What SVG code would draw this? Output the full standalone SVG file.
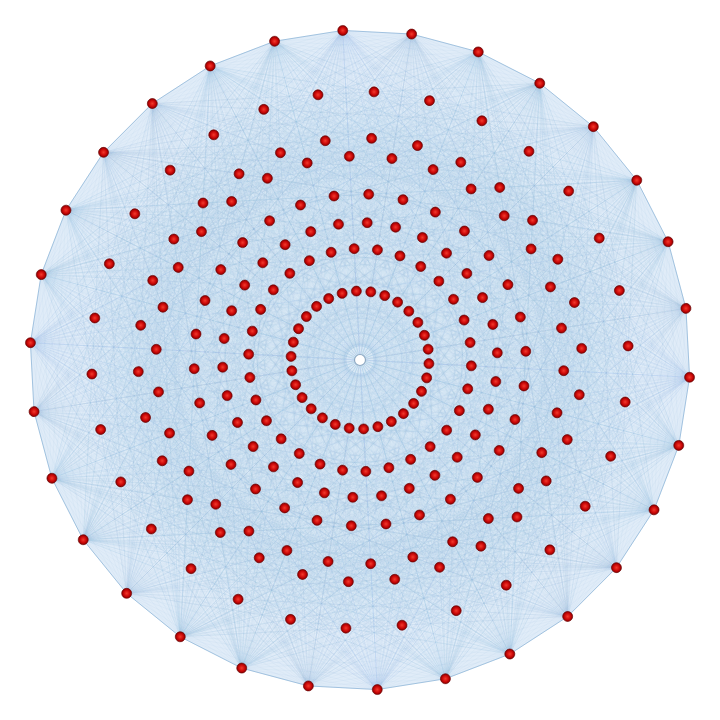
<svg xmlns="http://www.w3.org/2000/svg" xmlns:xlink="http://www.w3.org/1999/xlink" width="720" height="720" viewBox="0 0 720 720">
<style>
.ed{fill:none;stroke:#9cc2e4;stroke-width:0.45;stroke-opacity:0.2}
.nodes circle{fill:url(#rg);stroke:#6a0000;stroke-width:0.6}
.nodes circle.hub{fill:#ffffff;stroke:#8ea9c2;stroke-width:1.2}
</style>
<defs>
<radialGradient id="rg" cx="0.5" cy="0.5" r="0.5">
<stop offset="0" stop-color="#f23a2c"/><stop offset="0.6" stop-color="#cc0808"/><stop offset="1" stop-color="#8a0000"/>
</radialGradient>
<radialGradient id="gin" cx="0.5" cy="0.5" r="0.5">
<stop offset="0" stop-color="#d8e8f5"/><stop offset="0.85" stop-color="#d8e8f5"/><stop offset="1" stop-color="#d8e8f5" stop-opacity="0"/>
</radialGradient>
<path id="fa" class="ed" d="M360 30L428.6 37.2M360 30L494.2 58.5M360 30L554 93M360 30L605.2 139.2M360 30L645.8 195M360 30L673.9 258M360 30L688.2 325.5M360 30L688.2 394.5M360 30L673.9 462M360 30L645.8 525M360 30L605.2 580.8M360 30L554 627M360 30L494.2 661.5M360 30L428.6 682.8M360 30L360 690"/>
<path id="fh" class="ed" d="M360 30L388.1 93M360 30L443 104.6M360 30L494.3 127.5M360 30L539.7 160.5M360 30L577.2 202.2M360 30L605.3 250.8M360 30L622.6 304.2M360 30L628.5 360M360 30L622.6 415.8M360 30L605.3 469.2M360 30L577.2 517.8M360 30L539.7 559.5M360 30L494.3 592.5M360 30L443 615.4M360 30L388.1 627M360 30L383.2 139.2M360 30L428.6 148.9M360 30L471 167.7M360 30L508.6 195M360 30L539.6 229.5M360 30L562.8 269.7M360 30L577.2 313.8M360 30L582 360M360 30L577.2 406.2M360 30L562.8 450.3M360 30L539.6 490.5M360 30L508.6 525M360 30L471 552.3M360 30L428.6 571.1M360 30L383.2 580.8M360 30L360 156M360 30L402.4 160.5M360 30L443 173.6M360 30L479.9 195M360 30L511.6 223.5M360 30L536.7 258M360 30L554 297M360 30L562.9 338.7M360 30L562.9 381.3M360 30L554 423M360 30L536.7 462M360 30L511.6 496.5M360 30L479.9 525M360 30L443 546.4M360 30L402.4 559.5M360 30L360 564"/>
<g id="w"><use href="#fa"/><use href="#fh"/><use href="#fh" transform="matrix(-1 0 0 1 720 0)"/></g>
</defs>
<rect width="720" height="720" fill="#ffffff"/>
<g id="disk">
<polygon transform="rotate(-3 360 360)" fill="#e0ecf8" stroke="#9bbedc" stroke-width="0.9" points="360,30 428.6,37.2 494.2,58.5 554,93 605.2,139.2 645.8,195 673.9,258 688.2,325.5 688.2,394.5 673.9,462 645.8,525 605.2,580.8 554,627 494.2,661.5 428.6,682.8 360,690 291.4,682.8 225.8,661.5 166,627 114.8,580.8 74.2,525 46.1,462 31.8,394.5 31.8,325.5 46.1,258 74.2,195 114.8,139.2 166,93 225.8,58.5 291.4,37.2"/>
<circle cx="360" cy="360" r="272" fill="url(#gin)"/>
</g>
<g id="edges">
<use href="#w" transform="rotate(-3 360 360)"/><use href="#w" transform="rotate(9 360 360)"/><use href="#w" transform="rotate(21 360 360)"/><use href="#w" transform="rotate(33 360 360)"/><use href="#w" transform="rotate(45 360 360)"/><use href="#w" transform="rotate(57 360 360)"/><use href="#w" transform="rotate(69 360 360)"/><use href="#w" transform="rotate(81 360 360)"/><use href="#w" transform="rotate(93 360 360)"/><use href="#w" transform="rotate(105 360 360)"/><use href="#w" transform="rotate(117 360 360)"/><use href="#w" transform="rotate(129 360 360)"/><use href="#w" transform="rotate(141 360 360)"/><use href="#w" transform="rotate(153 360 360)"/><use href="#w" transform="rotate(165 360 360)"/><use href="#w" transform="rotate(177 360 360)"/><use href="#w" transform="rotate(189 360 360)"/><use href="#w" transform="rotate(201 360 360)"/><use href="#w" transform="rotate(213 360 360)"/><use href="#w" transform="rotate(225 360 360)"/><use href="#w" transform="rotate(237 360 360)"/><use href="#w" transform="rotate(249 360 360)"/><use href="#w" transform="rotate(261 360 360)"/><use href="#w" transform="rotate(273 360 360)"/><use href="#w" transform="rotate(285 360 360)"/><use href="#w" transform="rotate(297 360 360)"/><use href="#w" transform="rotate(309 360 360)"/><use href="#w" transform="rotate(321 360 360)"/><use href="#w" transform="rotate(333 360 360)"/><use href="#w" transform="rotate(345 360 360)"/>
</g>
<g class="nodes">
<g id="hub"><circle class="hub" cx="360" cy="360" r="5.5"/></g>
<g id="r1n0"><circle cx="360" cy="30" r="5" transform="rotate(-3 360 360)"/></g>
<g id="r1n1"><circle cx="360" cy="30" r="5" transform="rotate(9 360 360)"/></g>
<g id="r1n2"><circle cx="360" cy="30" r="5" transform="rotate(21 360 360)"/></g>
<g id="r1n3"><circle cx="360" cy="30" r="5" transform="rotate(33 360 360)"/></g>
<g id="r1n4"><circle cx="360" cy="30" r="5" transform="rotate(45 360 360)"/></g>
<g id="r1n5"><circle cx="360" cy="30" r="5" transform="rotate(57 360 360)"/></g>
<g id="r1n6"><circle cx="360" cy="30" r="5" transform="rotate(69 360 360)"/></g>
<g id="r1n7"><circle cx="360" cy="30" r="5" transform="rotate(81 360 360)"/></g>
<g id="r1n8"><circle cx="360" cy="30" r="5" transform="rotate(93 360 360)"/></g>
<g id="r1n9"><circle cx="360" cy="30" r="5" transform="rotate(105 360 360)"/></g>
<g id="r1n10"><circle cx="360" cy="30" r="5" transform="rotate(117 360 360)"/></g>
<g id="r1n11"><circle cx="360" cy="30" r="5" transform="rotate(129 360 360)"/></g>
<g id="r1n12"><circle cx="360" cy="30" r="5" transform="rotate(141 360 360)"/></g>
<g id="r1n13"><circle cx="360" cy="30" r="5" transform="rotate(153 360 360)"/></g>
<g id="r1n14"><circle cx="360" cy="30" r="5" transform="rotate(165 360 360)"/></g>
<g id="r1n15"><circle cx="360" cy="30" r="5" transform="rotate(177 360 360)"/></g>
<g id="r1n16"><circle cx="360" cy="30" r="5" transform="rotate(189 360 360)"/></g>
<g id="r1n17"><circle cx="360" cy="30" r="5" transform="rotate(201 360 360)"/></g>
<g id="r1n18"><circle cx="360" cy="30" r="5" transform="rotate(213 360 360)"/></g>
<g id="r1n19"><circle cx="360" cy="30" r="5" transform="rotate(225 360 360)"/></g>
<g id="r1n20"><circle cx="360" cy="30" r="5" transform="rotate(237 360 360)"/></g>
<g id="r1n21"><circle cx="360" cy="30" r="5" transform="rotate(249 360 360)"/></g>
<g id="r1n22"><circle cx="360" cy="30" r="5" transform="rotate(261 360 360)"/></g>
<g id="r1n23"><circle cx="360" cy="30" r="5" transform="rotate(273 360 360)"/></g>
<g id="r1n24"><circle cx="360" cy="30" r="5" transform="rotate(285 360 360)"/></g>
<g id="r1n25"><circle cx="360" cy="30" r="5" transform="rotate(297 360 360)"/></g>
<g id="r1n26"><circle cx="360" cy="30" r="5" transform="rotate(309 360 360)"/></g>
<g id="r1n27"><circle cx="360" cy="30" r="5" transform="rotate(321 360 360)"/></g>
<g id="r1n28"><circle cx="360" cy="30" r="5" transform="rotate(333 360 360)"/></g>
<g id="r1n29"><circle cx="360" cy="30" r="5" transform="rotate(345 360 360)"/></g>
<g id="r2n0"><circle cx="360" cy="91.5" r="5" transform="rotate(3 360 360)"/></g>
<g id="r2n1"><circle cx="360" cy="91.5" r="5" transform="rotate(15 360 360)"/></g>
<g id="r2n2"><circle cx="360" cy="91.5" r="5" transform="rotate(27 360 360)"/></g>
<g id="r2n3"><circle cx="360" cy="91.5" r="5" transform="rotate(39 360 360)"/></g>
<g id="r2n4"><circle cx="360" cy="91.5" r="5" transform="rotate(51 360 360)"/></g>
<g id="r2n5"><circle cx="360" cy="91.5" r="5" transform="rotate(63 360 360)"/></g>
<g id="r2n6"><circle cx="360" cy="91.5" r="5" transform="rotate(75 360 360)"/></g>
<g id="r2n7"><circle cx="360" cy="91.5" r="5" transform="rotate(87 360 360)"/></g>
<g id="r2n8"><circle cx="360" cy="91.5" r="5" transform="rotate(99 360 360)"/></g>
<g id="r2n9"><circle cx="360" cy="91.5" r="5" transform="rotate(111 360 360)"/></g>
<g id="r2n10"><circle cx="360" cy="91.5" r="5" transform="rotate(123 360 360)"/></g>
<g id="r2n11"><circle cx="360" cy="91.5" r="5" transform="rotate(135 360 360)"/></g>
<g id="r2n12"><circle cx="360" cy="91.5" r="5" transform="rotate(147 360 360)"/></g>
<g id="r2n13"><circle cx="360" cy="91.5" r="5" transform="rotate(159 360 360)"/></g>
<g id="r2n14"><circle cx="360" cy="91.5" r="5" transform="rotate(171 360 360)"/></g>
<g id="r2n15"><circle cx="360" cy="91.5" r="5" transform="rotate(183 360 360)"/></g>
<g id="r2n16"><circle cx="360" cy="91.5" r="5" transform="rotate(195 360 360)"/></g>
<g id="r2n17"><circle cx="360" cy="91.5" r="5" transform="rotate(207 360 360)"/></g>
<g id="r2n18"><circle cx="360" cy="91.5" r="5" transform="rotate(219 360 360)"/></g>
<g id="r2n19"><circle cx="360" cy="91.5" r="5" transform="rotate(231 360 360)"/></g>
<g id="r2n20"><circle cx="360" cy="91.5" r="5" transform="rotate(243 360 360)"/></g>
<g id="r2n21"><circle cx="360" cy="91.5" r="5" transform="rotate(255 360 360)"/></g>
<g id="r2n22"><circle cx="360" cy="91.5" r="5" transform="rotate(267 360 360)"/></g>
<g id="r2n23"><circle cx="360" cy="91.5" r="5" transform="rotate(279 360 360)"/></g>
<g id="r2n24"><circle cx="360" cy="91.5" r="5" transform="rotate(291 360 360)"/></g>
<g id="r2n25"><circle cx="360" cy="91.5" r="5" transform="rotate(303 360 360)"/></g>
<g id="r2n26"><circle cx="360" cy="91.5" r="5" transform="rotate(315 360 360)"/></g>
<g id="r2n27"><circle cx="360" cy="91.5" r="5" transform="rotate(327 360 360)"/></g>
<g id="r2n28"><circle cx="360" cy="91.5" r="5" transform="rotate(339 360 360)"/></g>
<g id="r2n29"><circle cx="360" cy="91.5" r="5" transform="rotate(351 360 360)"/></g>
<g id="r3n0"><circle cx="360" cy="138" r="5" transform="rotate(3 360 360)"/></g>
<g id="r3n1"><circle cx="360" cy="138" r="5" transform="rotate(15 360 360)"/></g>
<g id="r3n2"><circle cx="360" cy="138" r="5" transform="rotate(27 360 360)"/></g>
<g id="r3n3"><circle cx="360" cy="138" r="5" transform="rotate(39 360 360)"/></g>
<g id="r3n4"><circle cx="360" cy="138" r="5" transform="rotate(51 360 360)"/></g>
<g id="r3n5"><circle cx="360" cy="138" r="5" transform="rotate(63 360 360)"/></g>
<g id="r3n6"><circle cx="360" cy="138" r="5" transform="rotate(75 360 360)"/></g>
<g id="r3n7"><circle cx="360" cy="138" r="5" transform="rotate(87 360 360)"/></g>
<g id="r3n8"><circle cx="360" cy="138" r="5" transform="rotate(99 360 360)"/></g>
<g id="r3n9"><circle cx="360" cy="138" r="5" transform="rotate(111 360 360)"/></g>
<g id="r3n10"><circle cx="360" cy="138" r="5" transform="rotate(123 360 360)"/></g>
<g id="r3n11"><circle cx="360" cy="138" r="5" transform="rotate(135 360 360)"/></g>
<g id="r3n12"><circle cx="360" cy="138" r="5" transform="rotate(147 360 360)"/></g>
<g id="r3n13"><circle cx="360" cy="138" r="5" transform="rotate(159 360 360)"/></g>
<g id="r3n14"><circle cx="360" cy="138" r="5" transform="rotate(171 360 360)"/></g>
<g id="r3n15"><circle cx="360" cy="138" r="5" transform="rotate(183 360 360)"/></g>
<g id="r3n16"><circle cx="360" cy="138" r="5" transform="rotate(195 360 360)"/></g>
<g id="r3n17"><circle cx="360" cy="138" r="5" transform="rotate(207 360 360)"/></g>
<g id="r3n18"><circle cx="360" cy="138" r="5" transform="rotate(219 360 360)"/></g>
<g id="r3n19"><circle cx="360" cy="138" r="5" transform="rotate(231 360 360)"/></g>
<g id="r3n20"><circle cx="360" cy="138" r="5" transform="rotate(243 360 360)"/></g>
<g id="r3n21"><circle cx="360" cy="138" r="5" transform="rotate(255 360 360)"/></g>
<g id="r3n22"><circle cx="360" cy="138" r="5" transform="rotate(267 360 360)"/></g>
<g id="r3n23"><circle cx="360" cy="138" r="5" transform="rotate(279 360 360)"/></g>
<g id="r3n24"><circle cx="360" cy="138" r="5" transform="rotate(291 360 360)"/></g>
<g id="r3n25"><circle cx="360" cy="138" r="5" transform="rotate(303 360 360)"/></g>
<g id="r3n26"><circle cx="360" cy="138" r="5" transform="rotate(315 360 360)"/></g>
<g id="r3n27"><circle cx="360" cy="138" r="5" transform="rotate(327 360 360)"/></g>
<g id="r3n28"><circle cx="360" cy="138" r="5" transform="rotate(339 360 360)"/></g>
<g id="r3n29"><circle cx="360" cy="138" r="5" transform="rotate(351 360 360)"/></g>
<g id="r4n0"><circle cx="360" cy="156" r="5" transform="rotate(-3 360 360)"/></g>
<g id="r4n1"><circle cx="360" cy="156" r="5" transform="rotate(9 360 360)"/></g>
<g id="r4n2"><circle cx="360" cy="156" r="5" transform="rotate(21 360 360)"/></g>
<g id="r4n3"><circle cx="360" cy="156" r="5" transform="rotate(33 360 360)"/></g>
<g id="r4n4"><circle cx="360" cy="156" r="5" transform="rotate(45 360 360)"/></g>
<g id="r4n5"><circle cx="360" cy="156" r="5" transform="rotate(57 360 360)"/></g>
<g id="r4n6"><circle cx="360" cy="156" r="5" transform="rotate(69 360 360)"/></g>
<g id="r4n7"><circle cx="360" cy="156" r="5" transform="rotate(81 360 360)"/></g>
<g id="r4n8"><circle cx="360" cy="156" r="5" transform="rotate(93 360 360)"/></g>
<g id="r4n9"><circle cx="360" cy="156" r="5" transform="rotate(105 360 360)"/></g>
<g id="r4n10"><circle cx="360" cy="156" r="5" transform="rotate(117 360 360)"/></g>
<g id="r4n11"><circle cx="360" cy="156" r="5" transform="rotate(129 360 360)"/></g>
<g id="r4n12"><circle cx="360" cy="156" r="5" transform="rotate(141 360 360)"/></g>
<g id="r4n13"><circle cx="360" cy="156" r="5" transform="rotate(153 360 360)"/></g>
<g id="r4n14"><circle cx="360" cy="156" r="5" transform="rotate(165 360 360)"/></g>
<g id="r4n15"><circle cx="360" cy="156" r="5" transform="rotate(177 360 360)"/></g>
<g id="r4n16"><circle cx="360" cy="156" r="5" transform="rotate(189 360 360)"/></g>
<g id="r4n17"><circle cx="360" cy="156" r="5" transform="rotate(201 360 360)"/></g>
<g id="r4n18"><circle cx="360" cy="156" r="5" transform="rotate(213 360 360)"/></g>
<g id="r4n19"><circle cx="360" cy="156" r="5" transform="rotate(225 360 360)"/></g>
<g id="r4n20"><circle cx="360" cy="156" r="5" transform="rotate(237 360 360)"/></g>
<g id="r4n21"><circle cx="360" cy="156" r="5" transform="rotate(249 360 360)"/></g>
<g id="r4n22"><circle cx="360" cy="156" r="5" transform="rotate(261 360 360)"/></g>
<g id="r4n23"><circle cx="360" cy="156" r="5" transform="rotate(273 360 360)"/></g>
<g id="r4n24"><circle cx="360" cy="156" r="5" transform="rotate(285 360 360)"/></g>
<g id="r4n25"><circle cx="360" cy="156" r="5" transform="rotate(297 360 360)"/></g>
<g id="r4n26"><circle cx="360" cy="156" r="5" transform="rotate(309 360 360)"/></g>
<g id="r4n27"><circle cx="360" cy="156" r="5" transform="rotate(321 360 360)"/></g>
<g id="r4n28"><circle cx="360" cy="156" r="5" transform="rotate(333 360 360)"/></g>
<g id="r4n29"><circle cx="360" cy="156" r="5" transform="rotate(345 360 360)"/></g>
<g id="r5n0"><circle cx="360" cy="194" r="5" transform="rotate(3 360 360)"/></g>
<g id="r5n1"><circle cx="360" cy="194" r="5" transform="rotate(15 360 360)"/></g>
<g id="r5n2"><circle cx="360" cy="194" r="5" transform="rotate(27 360 360)"/></g>
<g id="r5n3"><circle cx="360" cy="194" r="5" transform="rotate(39 360 360)"/></g>
<g id="r5n4"><circle cx="360" cy="194" r="5" transform="rotate(51 360 360)"/></g>
<g id="r5n5"><circle cx="360" cy="194" r="5" transform="rotate(63 360 360)"/></g>
<g id="r5n6"><circle cx="360" cy="194" r="5" transform="rotate(75 360 360)"/></g>
<g id="r5n7"><circle cx="360" cy="194" r="5" transform="rotate(87 360 360)"/></g>
<g id="r5n8"><circle cx="360" cy="194" r="5" transform="rotate(99 360 360)"/></g>
<g id="r5n9"><circle cx="360" cy="194" r="5" transform="rotate(111 360 360)"/></g>
<g id="r5n10"><circle cx="360" cy="194" r="5" transform="rotate(123 360 360)"/></g>
<g id="r5n11"><circle cx="360" cy="194" r="5" transform="rotate(135 360 360)"/></g>
<g id="r5n12"><circle cx="360" cy="194" r="5" transform="rotate(147 360 360)"/></g>
<g id="r5n13"><circle cx="360" cy="194" r="5" transform="rotate(159 360 360)"/></g>
<g id="r5n14"><circle cx="360" cy="194" r="5" transform="rotate(171 360 360)"/></g>
<g id="r5n15"><circle cx="360" cy="194" r="5" transform="rotate(183 360 360)"/></g>
<g id="r5n16"><circle cx="360" cy="194" r="5" transform="rotate(195 360 360)"/></g>
<g id="r5n17"><circle cx="360" cy="194" r="5" transform="rotate(207 360 360)"/></g>
<g id="r5n18"><circle cx="360" cy="194" r="5" transform="rotate(219 360 360)"/></g>
<g id="r5n19"><circle cx="360" cy="194" r="5" transform="rotate(231 360 360)"/></g>
<g id="r5n20"><circle cx="360" cy="194" r="5" transform="rotate(243 360 360)"/></g>
<g id="r5n21"><circle cx="360" cy="194" r="5" transform="rotate(255 360 360)"/></g>
<g id="r5n22"><circle cx="360" cy="194" r="5" transform="rotate(267 360 360)"/></g>
<g id="r5n23"><circle cx="360" cy="194" r="5" transform="rotate(279 360 360)"/></g>
<g id="r5n24"><circle cx="360" cy="194" r="5" transform="rotate(291 360 360)"/></g>
<g id="r5n25"><circle cx="360" cy="194" r="5" transform="rotate(303 360 360)"/></g>
<g id="r5n26"><circle cx="360" cy="194" r="5" transform="rotate(315 360 360)"/></g>
<g id="r5n27"><circle cx="360" cy="194" r="5" transform="rotate(327 360 360)"/></g>
<g id="r5n28"><circle cx="360" cy="194" r="5" transform="rotate(339 360 360)"/></g>
<g id="r5n29"><circle cx="360" cy="194" r="5" transform="rotate(351 360 360)"/></g>
<g id="r6n0"><circle cx="360" cy="222.5" r="5" transform="rotate(3 360 360)"/></g>
<g id="r6n1"><circle cx="360" cy="222.5" r="5" transform="rotate(15 360 360)"/></g>
<g id="r6n2"><circle cx="360" cy="222.5" r="5" transform="rotate(27 360 360)"/></g>
<g id="r6n3"><circle cx="360" cy="222.5" r="5" transform="rotate(39 360 360)"/></g>
<g id="r6n4"><circle cx="360" cy="222.5" r="5" transform="rotate(51 360 360)"/></g>
<g id="r6n5"><circle cx="360" cy="222.5" r="5" transform="rotate(63 360 360)"/></g>
<g id="r6n6"><circle cx="360" cy="222.5" r="5" transform="rotate(75 360 360)"/></g>
<g id="r6n7"><circle cx="360" cy="222.5" r="5" transform="rotate(87 360 360)"/></g>
<g id="r6n8"><circle cx="360" cy="222.5" r="5" transform="rotate(99 360 360)"/></g>
<g id="r6n9"><circle cx="360" cy="222.5" r="5" transform="rotate(111 360 360)"/></g>
<g id="r6n10"><circle cx="360" cy="222.5" r="5" transform="rotate(123 360 360)"/></g>
<g id="r6n11"><circle cx="360" cy="222.5" r="5" transform="rotate(135 360 360)"/></g>
<g id="r6n12"><circle cx="360" cy="222.5" r="5" transform="rotate(147 360 360)"/></g>
<g id="r6n13"><circle cx="360" cy="222.5" r="5" transform="rotate(159 360 360)"/></g>
<g id="r6n14"><circle cx="360" cy="222.5" r="5" transform="rotate(171 360 360)"/></g>
<g id="r6n15"><circle cx="360" cy="222.5" r="5" transform="rotate(183 360 360)"/></g>
<g id="r6n16"><circle cx="360" cy="222.5" r="5" transform="rotate(195 360 360)"/></g>
<g id="r6n17"><circle cx="360" cy="222.5" r="5" transform="rotate(207 360 360)"/></g>
<g id="r6n18"><circle cx="360" cy="222.5" r="5" transform="rotate(219 360 360)"/></g>
<g id="r6n19"><circle cx="360" cy="222.5" r="5" transform="rotate(231 360 360)"/></g>
<g id="r6n20"><circle cx="360" cy="222.5" r="5" transform="rotate(243 360 360)"/></g>
<g id="r6n21"><circle cx="360" cy="222.5" r="5" transform="rotate(255 360 360)"/></g>
<g id="r6n22"><circle cx="360" cy="222.5" r="5" transform="rotate(267 360 360)"/></g>
<g id="r6n23"><circle cx="360" cy="222.5" r="5" transform="rotate(279 360 360)"/></g>
<g id="r6n24"><circle cx="360" cy="222.5" r="5" transform="rotate(291 360 360)"/></g>
<g id="r6n25"><circle cx="360" cy="222.5" r="5" transform="rotate(303 360 360)"/></g>
<g id="r6n26"><circle cx="360" cy="222.5" r="5" transform="rotate(315 360 360)"/></g>
<g id="r6n27"><circle cx="360" cy="222.5" r="5" transform="rotate(327 360 360)"/></g>
<g id="r6n28"><circle cx="360" cy="222.5" r="5" transform="rotate(339 360 360)"/></g>
<g id="r6n29"><circle cx="360" cy="222.5" r="5" transform="rotate(351 360 360)"/></g>
<g id="r7n0"><circle cx="360" cy="248.5" r="5" transform="rotate(-3 360 360)"/></g>
<g id="r7n1"><circle cx="360" cy="248.5" r="5" transform="rotate(9 360 360)"/></g>
<g id="r7n2"><circle cx="360" cy="248.5" r="5" transform="rotate(21 360 360)"/></g>
<g id="r7n3"><circle cx="360" cy="248.5" r="5" transform="rotate(33 360 360)"/></g>
<g id="r7n4"><circle cx="360" cy="248.5" r="5" transform="rotate(45 360 360)"/></g>
<g id="r7n5"><circle cx="360" cy="248.5" r="5" transform="rotate(57 360 360)"/></g>
<g id="r7n6"><circle cx="360" cy="248.5" r="5" transform="rotate(69 360 360)"/></g>
<g id="r7n7"><circle cx="360" cy="248.5" r="5" transform="rotate(81 360 360)"/></g>
<g id="r7n8"><circle cx="360" cy="248.5" r="5" transform="rotate(93 360 360)"/></g>
<g id="r7n9"><circle cx="360" cy="248.5" r="5" transform="rotate(105 360 360)"/></g>
<g id="r7n10"><circle cx="360" cy="248.5" r="5" transform="rotate(117 360 360)"/></g>
<g id="r7n11"><circle cx="360" cy="248.5" r="5" transform="rotate(129 360 360)"/></g>
<g id="r7n12"><circle cx="360" cy="248.5" r="5" transform="rotate(141 360 360)"/></g>
<g id="r7n13"><circle cx="360" cy="248.5" r="5" transform="rotate(153 360 360)"/></g>
<g id="r7n14"><circle cx="360" cy="248.5" r="5" transform="rotate(165 360 360)"/></g>
<g id="r7n15"><circle cx="360" cy="248.5" r="5" transform="rotate(177 360 360)"/></g>
<g id="r7n16"><circle cx="360" cy="248.5" r="5" transform="rotate(189 360 360)"/></g>
<g id="r7n17"><circle cx="360" cy="248.5" r="5" transform="rotate(201 360 360)"/></g>
<g id="r7n18"><circle cx="360" cy="248.5" r="5" transform="rotate(213 360 360)"/></g>
<g id="r7n19"><circle cx="360" cy="248.5" r="5" transform="rotate(225 360 360)"/></g>
<g id="r7n20"><circle cx="360" cy="248.5" r="5" transform="rotate(237 360 360)"/></g>
<g id="r7n21"><circle cx="360" cy="248.5" r="5" transform="rotate(249 360 360)"/></g>
<g id="r7n22"><circle cx="360" cy="248.5" r="5" transform="rotate(261 360 360)"/></g>
<g id="r7n23"><circle cx="360" cy="248.5" r="5" transform="rotate(273 360 360)"/></g>
<g id="r7n24"><circle cx="360" cy="248.5" r="5" transform="rotate(285 360 360)"/></g>
<g id="r7n25"><circle cx="360" cy="248.5" r="5" transform="rotate(297 360 360)"/></g>
<g id="r7n26"><circle cx="360" cy="248.5" r="5" transform="rotate(309 360 360)"/></g>
<g id="r7n27"><circle cx="360" cy="248.5" r="5" transform="rotate(321 360 360)"/></g>
<g id="r7n28"><circle cx="360" cy="248.5" r="5" transform="rotate(333 360 360)"/></g>
<g id="r7n29"><circle cx="360" cy="248.5" r="5" transform="rotate(345 360 360)"/></g>
<g id="r8n0"><circle cx="360" cy="291" r="5" transform="rotate(-3 360 360)"/></g>
<g id="r8n1"><circle cx="360" cy="291" r="5" transform="rotate(9 360 360)"/></g>
<g id="r8n2"><circle cx="360" cy="291" r="5" transform="rotate(21 360 360)"/></g>
<g id="r8n3"><circle cx="360" cy="291" r="5" transform="rotate(33 360 360)"/></g>
<g id="r8n4"><circle cx="360" cy="291" r="5" transform="rotate(45 360 360)"/></g>
<g id="r8n5"><circle cx="360" cy="291" r="5" transform="rotate(57 360 360)"/></g>
<g id="r8n6"><circle cx="360" cy="291" r="5" transform="rotate(69 360 360)"/></g>
<g id="r8n7"><circle cx="360" cy="291" r="5" transform="rotate(81 360 360)"/></g>
<g id="r8n8"><circle cx="360" cy="291" r="5" transform="rotate(93 360 360)"/></g>
<g id="r8n9"><circle cx="360" cy="291" r="5" transform="rotate(105 360 360)"/></g>
<g id="r8n10"><circle cx="360" cy="291" r="5" transform="rotate(117 360 360)"/></g>
<g id="r8n11"><circle cx="360" cy="291" r="5" transform="rotate(129 360 360)"/></g>
<g id="r8n12"><circle cx="360" cy="291" r="5" transform="rotate(141 360 360)"/></g>
<g id="r8n13"><circle cx="360" cy="291" r="5" transform="rotate(153 360 360)"/></g>
<g id="r8n14"><circle cx="360" cy="291" r="5" transform="rotate(165 360 360)"/></g>
<g id="r8n15"><circle cx="360" cy="291" r="5" transform="rotate(177 360 360)"/></g>
<g id="r8n16"><circle cx="360" cy="291" r="5" transform="rotate(189 360 360)"/></g>
<g id="r8n17"><circle cx="360" cy="291" r="5" transform="rotate(201 360 360)"/></g>
<g id="r8n18"><circle cx="360" cy="291" r="5" transform="rotate(213 360 360)"/></g>
<g id="r8n19"><circle cx="360" cy="291" r="5" transform="rotate(225 360 360)"/></g>
<g id="r8n20"><circle cx="360" cy="291" r="5" transform="rotate(237 360 360)"/></g>
<g id="r8n21"><circle cx="360" cy="291" r="5" transform="rotate(249 360 360)"/></g>
<g id="r8n22"><circle cx="360" cy="291" r="5" transform="rotate(261 360 360)"/></g>
<g id="r8n23"><circle cx="360" cy="291" r="5" transform="rotate(273 360 360)"/></g>
<g id="r8n24"><circle cx="360" cy="291" r="5" transform="rotate(285 360 360)"/></g>
<g id="r8n25"><circle cx="360" cy="291" r="5" transform="rotate(297 360 360)"/></g>
<g id="r8n26"><circle cx="360" cy="291" r="5" transform="rotate(309 360 360)"/></g>
<g id="r8n27"><circle cx="360" cy="291" r="5" transform="rotate(321 360 360)"/></g>
<g id="r8n28"><circle cx="360" cy="291" r="5" transform="rotate(333 360 360)"/></g>
<g id="r8n29"><circle cx="360" cy="291" r="5" transform="rotate(345 360 360)"/></g>
</g>
</svg>
